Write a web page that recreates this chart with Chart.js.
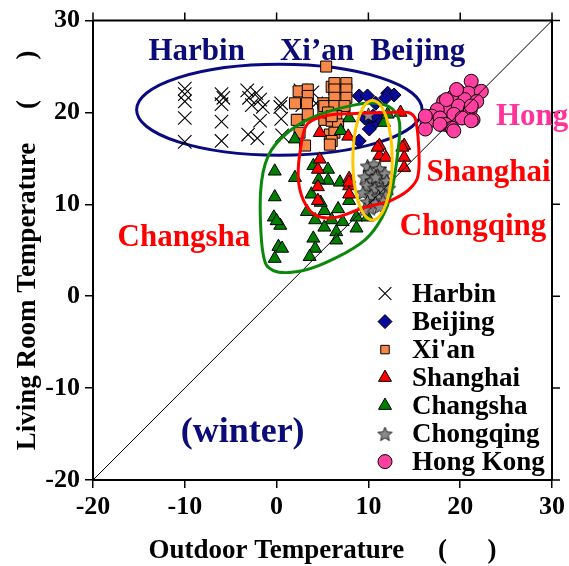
<!DOCTYPE html>
<html>
<head>
<meta charset="utf-8">
<script src="https://cdn.jsdelivr.net/npm/chart.js@4/dist/chart.umd.min.js"></script>
<style>body{margin:0;background:#fff}</style>
</head>
<body>
<canvas id="chartTemp" width="569" height="566"></canvas>
<script>
// dados: [externa, sala]
var harbin = [[-10,22.6],[-10,22.0],[-10,21.2],[-10,19.4],[-10,16.8],
    [-6,22.0],[-5.8,21.6],[-6,20.9],[-6,19.0],[-6,16.9],
    [-3.2,22.4],[-3,21.6],[-2.7,20.8],[-3.1,17.6],
    [-2.2,22.1],[-1.8,21.4],[-1.5,20.6],[-1.8,19.1],[-2.1,17.2],
    [0.5,21.0],[0.4,20.6],[0.5,19.3],[0.6,17.5],
    [2.6,22.4],[3.0,21.7],[2.8,20.8],[3.9,22.2],[4.3,21.0]];
var beijing = [[9.0,21.8],[9.9,21.8],[10.8,21.0],[12.1,22.1],[12.8,21.9],[11.9,21.6],
    [9.6,19.4],[10.5,18.7],[11.2,19.4],[9.0,16.9],[10.1,18.2],[10.5,19.6]];
var xian = [[5.4,25.0],[2.4,22.3],[3.4,22.5],[3.4,21.8],[2.0,21.0],[3.3,21.0],[2.4,19.2],
    [2.2,19.2],[2.5,17.8],[3.4,19.8],[5.1,21.0],[5.1,20.1],[5.2,19.2],[5.2,20.7],
    [6.0,22.8],[6.3,23.2],[7.6,23.2],[6.3,22.5],[7.6,22.5],[6.3,21.6],[7.6,21.6],
    [6.3,20.7],[7.4,20.7],[5.6,20.0],[6.5,19.6],[6.0,19.1],[6.7,18.7],[5.8,17.6],
    [6.3,17.8],[6.0,16.9],[3.1,16.4],[5.8,16.5],[6.0,19.6]];
var shanghai = [[13.5,20.0],[11.2,16.4],[11.2,15.3],[11.9,15.1],[13.9,16.4],[13.9,15.1],
    [13.9,14.0],[11.0,16.2],[13.7,16.2],[4.7,17.8],[4.7,14.9],[4.5,13.8],[7.9,12.8],
    [7.9,12.0],[7.9,11.1],[4.5,11.9],[4.5,10.4],[7.8,17.4],[7.9,12.4]];
var changsha = [[-0.2,13.6],[2.0,12.9],[-0.2,10.8],[-0.3,8.6],[0.4,7.7],[0.2,5.4],[-0.2,4.1],
    [4.0,14.2],[5.6,13.8],[5.6,12.6],[3.8,11.1],[5.2,9.3],[3.3,9.2],[6.9,12.4],[7.9,10.4],
    [6.7,9.5],[4.2,8.3],[6.0,8.3],[7.2,8.1],[8.7,8.6],[9.9,8.6],[5.2,7.5],[6.5,7.0],
    [8.7,7.4],[4.0,6.3],[6.5,6.1],[4.2,5.2],[3.6,4.3],[7.9,19.4],[7.0,18.0],[2.0,17.1],
    [11.7,18.9],[12.1,19.8],[0.0,8.2],[0.6,5.2],[4.8,10.2],[4.6,12.7]];
var chongqing = [[9.9,14.2],[10.6,14.4],[11.2,13.9],[10.2,13.5],[11.0,13.2],[11.8,13.4],
    [9.6,13.0],[10.4,12.6],[11.3,12.5],[12.0,12.6],[9.8,12.1],[10.7,11.8],[11.5,11.7],
    [12.2,11.8],[9.4,11.3],[10.3,11.0],[11.1,10.9],[11.9,11.0],[9.9,10.3],[10.8,10.2],
    [11.6,10.4],[10.2,9.6],[11.2,9.8],[9.6,9.5],[10.8,13.0],[10.0,19.8]];
var hongkong = [[21.2,23.4],[19.8,22.3],[20.9,22.1],[22.3,22.3],[19.3,21.8],[20.5,21.4],
    [21.8,21.2],[18.2,21.2],[18.5,20.5],[19.8,20.7],[21.1,20.3],[17.5,20.3],[16.9,19.6],
    [19.3,19.8],[20.2,19.4],[21.4,19.2],[17.8,19.4],[16.4,18.9],[18.4,18.7],[16.2,18.2],
    [19.1,18.3],[21.2,19.1],[19.6,22.5],[18.5,21.4],[21.2,20.7],[16.2,19.6],[19.3,18.0],
    [17.8,18.7]];
var diagonal = [[-20,-20],[30,30]];
var ticksEixo = [-20, -10, 0, 10, 20, 30];

// contornos desenhados à mão no original (em unidades dos eixos)
var contornoVerde = [[-1.75,11.25],[-1.5,4.8],[-0.35,2.8],[2.9,2.8],[6.5,4.2],[9.7,6.2],
    [11.5,8.6],[12.5,11.3],[13.2,15.6],[13.4,18.8],[12.6,20.4],[10.8,21.0],[8.4,20.8],
    [4.5,19.7],[1.3,17.9],[-0.9,15.3]];
var contornoVermelho = [[2.7,16.6],[3.4,18.8],[5.6,19.7],[8.5,19.9],[12.1,20.0],[14.6,19.9],
    [15.3,18.3],[15.5,13.9],[14.8,12.0],[12.6,10.5],[9.4,9.6],[6.5,8.6],[4.3,8.8],
    [2.9,10.5],[2.35,13.1]];

var fonte = '"Liberation Serif", "Times New Roman", serif';
var azulEscuro = '#0c0c78';

function pts(arr) {
    return arr.map(function (p) { return { x: p[0], y: p[1] }; });
}

function fazEstrela(r) {
    var c = document.createElement('canvas');
    c.width = c.height = Math.ceil(r * 2 + 4);
    var g = c.getContext('2d');
    var m = c.width / 2;
    g.beginPath();
    for (var i = 0; i < 10; i++) {
        var rr = i % 2 ? r * 0.45 : r;
        var a = -Math.PI / 2 + i * Math.PI / 5;
        g.lineTo(m + rr * Math.cos(a), m + 1 + rr * Math.sin(a));
    }
    g.closePath();
    g.fillStyle = '#8a8a8a';
    g.fill();
    g.strokeStyle = '#000';
    g.lineWidth = 0.8;
    g.stroke();
    return c;
}
var estrela = fazEstrela(7.5);

function curvaFechada(ctx, p) {
    var n = p.length;
    ctx.beginPath();
    ctx.moveTo(p[0][0], p[0][1]);
    for (var i = 0; i < n; i++) {
        var p0 = p[(i - 1 + n) % n], p1 = p[i], p2 = p[(i + 1) % n], p3 = p[(i + 2) % n];
        ctx.bezierCurveTo(p1[0] + (p2[0] - p0[0]) / 6, p1[1] + (p2[1] - p0[1]) / 6,
            p2[0] - (p3[0] - p1[0]) / 6, p2[1] - (p3[1] - p1[1]) / 6, p2[0], p2[1]);
    }
    ctx.closePath();
}

var anotacoes = {
    id: 'anotacoes',
    beforeDatasetsDraw: function (chart) {
        var ctx = chart.ctx, sx = chart.scales.x, sy = chart.scales.y;
        ctx.save();
        ctx.strokeStyle = '#0a0a80';
        ctx.lineWidth = 3;
        ctx.beginPath();
        var cx = sx.getPixelForValue(0.3), cy = sy.getPixelForValue(20.3);
        var rx = sx.getPixelForValue(15.85) - cx, ry = cy - sy.getPixelForValue(25.25);
        ctx.ellipse(cx, cy, rx, ry, 0, 0, Math.PI * 2);
        ctx.stroke();
        ctx.restore();
    },
    afterDatasetsDraw: function (chart) {
        var ctx = chart.ctx, sx = chart.scales.x, sy = chart.scales.y;
        function px(c) {
            return c.map(function (p) { return [sx.getPixelForValue(p[0]), sy.getPixelForValue(p[1])]; });
        }
        ctx.save();
        ctx.lineWidth = 3;
        ctx.strokeStyle = '#0b880b';
        curvaFechada(ctx, px(contornoVerde));
        ctx.stroke();
        ctx.strokeStyle = '#ff0000';
        curvaFechada(ctx, px(contornoVermelho));
        ctx.stroke();
        ctx.strokeStyle = '#ffc800';
        ctx.beginPath();
        var cx = sx.getPixelForValue(10.45), cy = sy.getPixelForValue(14.8);
        ctx.ellipse(cx, cy, sx.getPixelForValue(12.6) - cx, cy - sy.getPixelForValue(21.3), 0, 0, Math.PI * 2);
        ctx.stroke();
        ctx.restore();
    },
    afterDraw: function (chart) {
        var ctx = chart.ctx, sx = chart.scales.x, sy = chart.scales.y, a = chart.chartArea;
        ctx.save();
        // moldura de cima e da direita com ticks
        ctx.strokeStyle = '#000';
        ctx.lineWidth = 2;
        ctx.beginPath();
        ctx.moveTo(a.left, a.top); ctx.lineTo(a.right, a.top); ctx.lineTo(a.right, a.bottom);
        ctx.stroke();
        ctx.lineWidth = 1.5;
        ticksEixo.forEach(function (v) {
            var x = sx.getPixelForValue(v), y = sy.getPixelForValue(v);
            ctx.beginPath();
            ctx.moveTo(x, a.top); ctx.lineTo(x, a.top - 8);
            ctx.moveTo(a.right, y); ctx.lineTo(a.right + 8, y);
            ctx.stroke();
        });

        // textos
        ctx.textAlign = 'center';
        ctx.textBaseline = 'middle';
        function txt(t, x, y, cor, tam, alinha) {
            ctx.font = 'bold ' + tam + 'px ' + fonte;
            ctx.fillStyle = cor;
            ctx.textAlign = alinha || 'center';
            ctx.fillText(t, sx.getPixelForValue(x), sy.getPixelForValue(y));
        }
        txt('Harbin', -8.7, 26.6, azulEscuro, 31);
        txt('Xi\u2019an', 4.4, 26.6, azulEscuro, 31);
        txt('Beijing', 15.4, 26.6, azulEscuro, 31);
        txt('Hong Kong', 23.9, 19.5, '#ff3399', 31, 'left');
        txt('Shanghai', 23.1, 13.4, '#ff0000', 31);
        txt('Chongqing', 21.4, 7.5, '#ff0000', 31);
        txt('Changsha', -10.1, 6.3, '#ff0000', 31);
        txt('(winter)', -3.7, -14.8, azulEscuro, 36);

        // legenda
        var lx = a.left + 292, ly = a.top + 273;
        chart.data.datasets.forEach(function (d) {
            if (!d.label) return;
            ctx.fillStyle = d.backgroundColor;
            ctx.strokeStyle = d.borderColor;
            ctx.lineWidth = d.borderWidth;
            Chart.helpers.drawPoint(ctx, {
                pointStyle: d.pointStyle, radius: d.legendaRaio || d.pointRadius,
                rotation: 0, borderWidth: d.borderWidth
            }, lx, ly);
            ctx.font = 'bold 27px ' + fonte;
            ctx.fillStyle = '#000';
            ctx.textAlign = 'left';
            ctx.fillText(d.label, lx + 27, ly + 1);
            ly += 28;
        });
        ctx.restore();
    }
};

var ctx = document.getElementById('chartTemp').getContext('2d');
var grafico = new Chart(ctx, {
    type: 'scatter',
    data: {
        datasets: [{
            label: 'Harbin', data: pts(harbin), pointStyle: 'crossRot', pointRadius: 9.5, legendaRaio: 9,
            backgroundColor: '#000', borderColor: '#000', borderWidth: 1.1, order: 8
        }, {
            label: 'Beijing', data: pts(beijing), pointStyle: 'rectRot', pointRadius: 7,
            backgroundColor: '#0a0a9a', borderColor: '#000', borderWidth: 1, order: 5
        }, {
            label: "Xi'an", data: pts(xian), pointStyle: 'rect', pointRadius: 7.8, legendaRaio: 6,
            backgroundColor: '#f8884a', borderColor: '#000', borderWidth: 1, order: 7
        }, {
            label: 'Shanghai', data: pts(shanghai), pointStyle: 'triangle', pointRadius: 7.5,
            backgroundColor: '#ff0000', borderColor: '#000', borderWidth: 1, order: 3
        }, {
            label: 'Changsha', data: pts(changsha), pointStyle: 'triangle', pointRadius: 7.5,
            backgroundColor: '#008000', borderColor: '#000', borderWidth: 1, order: 4
        }, {
            label: 'Chongqing', data: pts(chongqing), pointStyle: estrela, pointRadius: 7.5,
            backgroundColor: '#8a8a8a', borderColor: '#000', borderWidth: 1, order: 2
        }, {
            label: 'Hong Kong', data: pts(hongkong), pointStyle: 'circle', pointRadius: 7,
            backgroundColor: '#ff40a0', borderColor: '#000', borderWidth: 1, order: 6
        }, {
            type: 'line', data: pts(diagonal), showLine: true, pointRadius: 0,
            borderColor: '#000', borderWidth: 1, order: 1
        }]
    },
    options: {
        responsive: false,
        animation: false,
        devicePixelRatio: 1,
        layout: { padding: { top: 16, right: 13, left: 0, bottom: 0 } },
        plugins: { legend: { display: false }, tooltip: { enabled: false } },
        scales: {
            x: {
                type: 'linear', min: -20, max: 30,
                afterFit: function (s) { s.height = 86; },
                afterBuildTicks: function (s) { s.ticks = ticksEixo.map(function (v) { return { value: v }; }); },
                ticks: { color: '#000', padding: 4, font: { family: fonte, size: 26, weight: 'bold' } },
                grid: { drawOnChartArea: false, tickLength: 8, color: '#000', lineWidth: 1.5 },
                border: { color: '#000', width: 2 },
                title: {
                    display: true, text: 'Outdoor Temperature     (      )', color: '#000',
                    padding: { top: 0, bottom: -1 }, font: { family: fonte, size: 27, weight: 'bold' }
                }
            },
            y: {
                type: 'linear', min: -20, max: 30,
                afterFit: function (s) { s.width = 93; },
                afterBuildTicks: function (s) { s.ticks = ticksEixo.map(function (v) { return { value: v }; }); },
                ticks: { color: '#000', padding: 5, font: { family: fonte, size: 26, weight: 'bold' } },
                grid: { drawOnChartArea: false, tickLength: 8, color: '#000', lineWidth: 1.5 },
                border: { color: '#000', width: 2 },
                title: {
                    display: true, text: 'Living Room Temperature     (      )', color: '#000',
                    padding: { top: 12, bottom: 0 }, font: { family: fonte, size: 27, weight: 'bold' }
                }
            }
        }
    },
    plugins: [anotacoes]
});
</script>
</body>
</html>
